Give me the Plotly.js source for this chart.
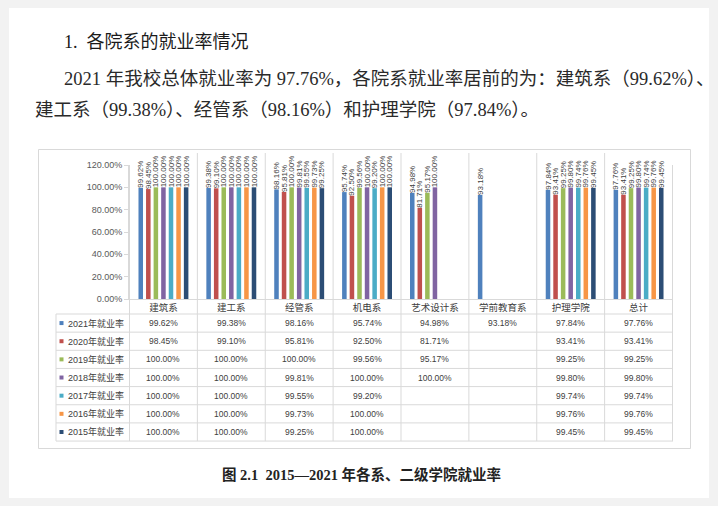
<!DOCTYPE html>
<html><head><meta charset="utf-8">
<script src="https://cdn.plot.ly/plotly-3.0.1.min.js"></script>
<style>html,body{margin:0;padding:0;background:#f2f2f2;}#chart{width:718px;height:506px;}</style>
</head><body><div id="chart"></div>
<script>
// ---- data ----
const categories = ["建筑系","建工系","经管系","机电系","艺术设计系","学前教育系","护理学院","总计"];
const seriesNames = ["2021年就业率","2020年就业率","2019年就业率","2018年就业率","2017年就业率","2016年就业率","2015年就业率"];
const rate2021 = [99.62, 99.38, 98.16, 95.74, 94.98, 93.18, 97.84, 97.76];
const rate2020 = [98.45, 99.10, 95.81, 92.50, 81.71, null, 93.41, 93.41];
const rate2019 = [100.00, 100.00, 100.00, 99.56, 95.17, null, 99.25, 99.25];
const rate2018 = [100.00, 100.00, 99.81, 100.00, 100.00, null, 99.80, 99.80];
const rate2017 = [100.00, 100.00, 99.55, 99.20, null, null, 99.74, 99.74];
const rate2016 = [100.00, 100.00, 99.73, 100.00, null, null, 99.76, 99.76];
const rate2015 = [100.00, 100.00, 99.25, 100.00, null, null, 99.45, 99.45];
const yTicks = [0, 20, 40, 60, 80, 100, 120];
const headingText = "1.&nbsp;&nbsp;各院系的就业率情况";
const paraLine1 = "2021 年我校总体就业率为 97.76%，各院系就业率居前的为：建筑系（99.62%）、";
const paraLine2 = "建工系（99.38%）、经管系（98.16%）和护理学院（97.84%）。";
const captionText = "<b>图 2.1  2015—2021 年各系、二级学院就业率</b>";

// ---- styles ----
const allSeries = [rate2021, rate2020, rate2019, rate2018, rate2017, rate2016, rate2015];
const colors = ["#4F81BD","#C0504D","#9BBB59","#8064A2","#4BACC6","#F79646","#2C4D75"];
const W = 718, H = 506;
const plotL = 129, plotR = 673, plotT = 165, plotB = 299;
const px = v => (v - plotL) / (plotR - plotL);
const py = v => (plotB - v) / (plotB - plotT);
const sansCJK = "Liberation Sans, Noto Sans CJK SC, sans-serif";
const docFont = "Liberation Serif, Noto Sans CJK SC, serif";
const gridColor = "#d9d9d9";

const traces = allSeries.map((vals, k) => ({
  type: "bar",
  name: seriesNames[k],
  x: categories,
  y: vals,
  marker: {color: colors[k]},
  texttemplate: "%{y:.2f}%",
  textposition: "outside",
  textangle: -90,
  constraintext: "none",
  cliponaxis: false,
  textfont: {size: 8, color: "#404040", family: sansCJK},
  hoverinfo: "skip",
  showlegend: false
}));

const shapes = [];
const annotations = [];
// page
shapes.push({type:"rect", xref:"paper", yref:"paper", layer:"below",
  x0:px(9), x1:px(709), y0:py(498), y1:py(8), fillcolor:"#ffffff", line:{width:0}});
// chart frame
shapes.push({type:"rect", xref:"paper", yref:"paper", layer:"below",
  x0:px(38.5), x1:px(690.5), y0:py(448.5), y1:py(149.5), line:{color:gridColor, width:1}});
// table rows
const rowTop = 314, rowH = 18.15;
for (let k = 0; k <= seriesNames.length; k++) {
  const y = rowTop + rowH * k;
  shapes.push({type:"line", xref:"paper", yref:"paper", x0:px(56), x1:px(plotR), y0:py(y), y1:py(y),
    line:{color:gridColor, width:1}});
}
const tableBottom = rowTop + rowH * seriesNames.length;
// left edge of table
shapes.push({type:"line", xref:"paper", yref:"paper", x0:px(56), x1:px(56), y0:py(rowTop), y1:py(tableBottom),
  line:{color:gridColor, width:1}});
// category separators
for (let i = 0; i <= categories.length; i++) {
  const top = (i === 0 || i === categories.length) ? plotT : 153;
  shapes.push({type:"line", xref:"x", yref:"paper", x0:i - 0.5, x1:i - 0.5, y0:py(tableBottom), y1:py(top),
    line:{color:gridColor, width:1}});
}
// legend keys + row labels + values
seriesNames.forEach((name, k) => {
  const cy = rowTop + rowH * (k + 0.5);
  shapes.push({type:"rect", xref:"paper", yref:"paper", x0:px(59.5), x1:px(63.5), y0:py(cy + 2), y1:py(cy - 2),
    fillcolor:colors[k], line:{width:0}});
  annotations.push({xref:"paper", yref:"paper", x:px(66), y:py(cy), xanchor:"left", yanchor:"middle",
    text:name, showarrow:false, font:{size:9, color:"#404040", family:sansCJK}});
  allSeries[k].forEach((v, i) => {
    if (v === null) return;
    annotations.push({xref:"x", yref:"paper", x:i, y:py(cy), xanchor:"center", yanchor:"middle",
      text:v.toFixed(2) + "%", showarrow:false, font:{size:8.5, color:"#404040", family:sansCJK}});
  });
});
// document text
annotations.push({xref:"paper", yref:"paper", x:px(62), y:py(42), xanchor:"left", yanchor:"middle",
  text:headingText, showarrow:false, font:{size:18, color:"#1a1a1a", family:docFont}});
annotations.push({xref:"paper", yref:"paper", x:px(62), y:py(79), xanchor:"left", yanchor:"middle",
  text:paraLine1, showarrow:false, font:{size:18.5, color:"#2a2a2a", family:docFont}});
annotations.push({xref:"paper", yref:"paper", x:px(33), y:py(110), xanchor:"left", yanchor:"middle",
  text:paraLine2, showarrow:false, font:{size:18.5, color:"#2a2a2a", family:docFont}});
annotations.push({xref:"paper", yref:"paper", x:px(361), y:py(474), xanchor:"center", yanchor:"middle",
  text:captionText, showarrow:false, font:{size:14.5, color:"#222222", family:docFont}});

const layout = {
  width: W, height: H,
  margin: {l: plotL, r: W - plotR, t: plotT, b: H - plotB, pad: 0},
  paper_bgcolor: "#f2f2f2",
  plot_bgcolor: "rgba(0,0,0,0)",
  barmode: "group",
  bargap: 0.22,
  bargroupgap: 0.4,
  showlegend: false,
  xaxis: {type:"category", categoryarray: categories, showline:true, linecolor:gridColor, linewidth:1,
    ticks:"", showgrid:false, zeroline:false, fixedrange:true,
    tickfont:{size:9.5, color:"#404040", family:sansCJK}},
  yaxis: {range:[0,120], tickvals:yTicks, ticktext:yTicks.map(v => v.toFixed(2) + "%"),
    showline:true, linecolor:gridColor, linewidth:1, ticks:"outside", ticklen:4, tickcolor:gridColor,
    showgrid:false, zeroline:false, fixedrange:true,
    tickfont:{size:9, color:"#595959", family:sansCJK}},
  shapes: shapes,
  annotations: annotations
};

Plotly.newPlot("chart", traces, layout, {displayModeBar:false, staticPlot:true});
</script>
</body></html>
